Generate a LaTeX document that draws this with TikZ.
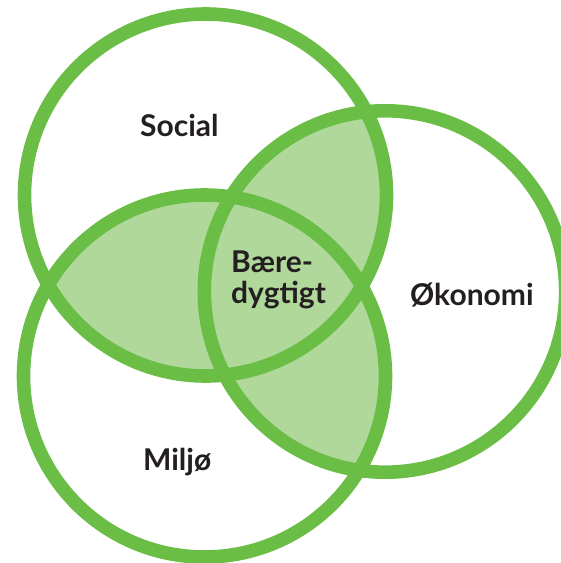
\documentclass[tikz,border=0pt]{standalone}
\usepackage{fontspec}
\setmainfont{Lato}
\definecolor{ring}{HTML}{6ABD45}
\definecolor{lap}{HTML}{B0D89A}
\definecolor{ink}{HTML}{231F20}
\begin{document}
\begin{tikzpicture}[x=1pt,y=-1pt,
  ringstyle/.style={draw=ring,line width=13.6pt},
  lbl/.style={font=\bfseries\fontsize{30}{31}\selectfont,text=ink,inner sep=0pt,anchor=base west}]
\useasboundingbox (0,0) rectangle (561,563);
\def\socialc{(205.5,195) circle (181)}
\def\okoc{(385,291.5) circle (180.7)}
\def\miljoc{(204.5,376) circle (181)}
\begin{scope}
  \clip \socialc;
  \fill[lap] \okoc;
  \fill[lap] \miljoc;
\end{scope}
\begin{scope}
  \clip \okoc;
  \fill[lap] \miljoc;
\end{scope}
\draw[ringstyle] \socialc;
\draw[ringstyle] \okoc;
\draw[ringstyle] \miljoc;
\node[lbl] (social) at (140,136) {Social};
\node[lbl] (oko) at (410,305) {Økonomi};
\node[lbl] (miljo) at (143,470) {Miljø};
\node[lbl,align=left,anchor=north west] (baere) at (231,251) {Bære-\\dygtigt};
\end{tikzpicture}
\end{document}
